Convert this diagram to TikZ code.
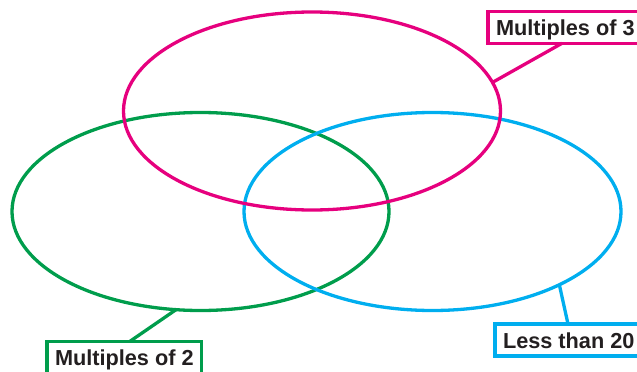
\documentclass[tikz,border=0pt]{standalone}
\usepackage{fontspec}
\setmainfont{Liberation Sans}
\usetikzlibrary{shapes, positioning, calc}
\definecolor{threecol}{RGB}{230,0,126}
\definecolor{twocol}{RGB}{0,157,76}
\definecolor{lesscol}{RGB}{0,174,239}
\definecolor{inkcol}{RGB}{35,31,32}

\begin{document}
\begin{tikzpicture}[x=1pt, y=-1pt,
  venn/.style={ellipse, draw=#1, line width=3.3pt, minimum width=377pt,
               minimum height=198pt, inner sep=0pt, outer sep=0pt},
  tag/.style={draw=#1, line width=3.4pt, fill=white, anchor=north west,
              inner xsep=8pt, inner ysep=0pt, minimum height=32pt,
              text height=16pt, text depth=0pt, outer sep=0pt, text=inkcol,
              font=\fontsize{21.7}{24}\selectfont\bfseries}]
\useasboundingbox (0,0) rectangle (637,372);
\clip (0,0) rectangle (637,372);
% the three sets
\node[venn=twocol] (two) at (200.5, 211.5) {};
\node[venn=lesscol] (less) at (432.5, 211.5) {};
\node[venn=threecol] (three) at (312, 111) {};
% labels
\node[tag=threecol] (l3) at (488, 11.3) {Multiples of 3};
\node[tag=twocol] (l2) at (47, 341.3) {Multiples of 2};
\node[tag=lesscol] (l20) at (495, 324) {Less than 20};
% leader lines
\draw[threecol, line width=3.3pt] (three.9.3) -- ($(l3.south west)+(74,0)$);
\draw[twocol, line width=3.3pt] (two.256) -- ($(l2.north west)+(83,0)$);
\draw[lesscol, line width=3.3pt] (less.330) -- ($(l20.north west)+(73,0)$);
\end{tikzpicture}
\end{document}
